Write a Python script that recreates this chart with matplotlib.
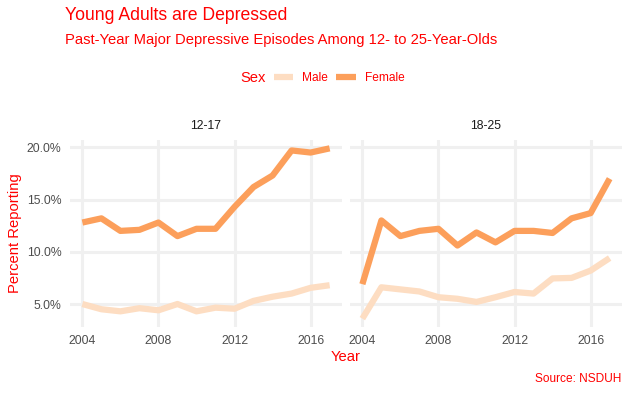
import numpy as np
import matplotlib.pyplot as plt
from matplotlib.lines import Line2D
from matplotlib.ticker import FuncFormatter

plt.rcParams['font.family'] = ['Liberation Sans', 'DejaVu Sans']

# Données (pourcentage)
annees = [2004, 2005, 2006, 2007, 2008, 2009, 2010, 2011, 2012, 2013, 2014, 2015, 2016, 2017]
groupes = ['12-17', '18-25']
homme_12_17 = [5.0, 4.5, 4.3, 4.6, 4.4, 5.0, 4.3, 4.65, 4.55, 5.3, 5.7, 6.0, 6.55, 6.8]
femme_12_17 = [12.8, 13.2, 12.0, 12.1, 12.8, 11.5, 12.2, 12.2, 14.3, 16.2, 17.3, 19.7, 19.5, 19.9]
homme_18_25 = [3.6, 6.6, 6.4, 6.2, 5.65, 5.5, 5.2, 5.65, 6.15, 6.0, 7.45, 7.5, 8.2, 9.4]
femme_18_25 = [6.9, 13.0, 11.5, 12.0, 12.2, 10.6, 11.85, 10.9, 12.0, 12.0, 11.8, 13.2, 13.7, 17.0]
series = {'12-17': (homme_12_17, femme_12_17), '18-25': (homme_18_25, femme_18_25)}
sexes = ['Male', 'Female']
couleurs = ['#FDDDC2', '#FC9F5B']

ROUGE = '#FF0000'
GRIS = '#4D4D4D'
W, H = 630, 395

fig = plt.figure(figsize=(6.3, 3.95), dpi=100)


def px(x0, x1, y0, y1):
    return [x0 / W, 1 - y1 / H, (x1 - x0) / W, (y1 - y0) / H]


panneaux = [px(70, 342, 140, 327), px(350, 622, 140, 327)]

for i, g in enumerate(groupes):
    ax = fig.add_axes(panneaux[i])
    for j, vals in enumerate(series[g]):
        ax.plot(annees, vals, color=couleurs[j], lw=4.5, solid_capstyle='butt', zorder=3)
    ax.set_xlim(2004 - 0.65, 2017 + 0.65)
    ax.set_ylim(2.8, 20.7)
    ax.set_xticks([2004, 2008, 2012, 2016])
    ax.set_yticks([5, 10, 15, 20])
    ax.yaxis.set_major_formatter(FuncFormatter(lambda v, p: f'{v:.1f}%'))
    ax.grid(True, color='#F0F0F0', lw=2.2)
    ax.set_axisbelow(True)
    for s in ax.spines.values():
        s.set_visible(False)
    ax.tick_params(length=0, labelsize=8.8, labelcolor=GRIS, pad=6)
    if i == 1:
        ax.tick_params(labelleft=False)
    ax.set_title(g, fontsize=8.8, color='#1A1A1A', pad=8)

fig.text(65 / W, 1 - 15 / H, 'Young Adults are Depressed', color=ROUGE, fontsize=12.7, va='center')
fig.text(65 / W, 1 - 40 / H, 'Past-Year Major Depressive Episodes Among 12- to 25-Year-Olds',
         color=ROUGE, fontsize=10.6, va='center')
fig.text(15 / W, 1 - 233 / H, 'Percent Reporting', color=ROUGE, fontsize=10.6,
         rotation=90, va='center', ha='center')
fig.text(346 / W, 1 - 357 / H, 'Year', color=ROUGE, fontsize=10.6, va='center', ha='center')
fig.text(621 / W, 1 - 379 / H, 'Source: NSDUH', color=ROUGE, fontsize=8.6, va='center', ha='right')

# légende
fig.text(240 / W, 1 - 78 / H, 'Sex', color=ROUGE, fontsize=10.6, va='center')
poignees = [Line2D([], [], color=c, lw=4.5, solid_capstyle='butt') for c in couleurs]
leg = fig.legend(poignees, sexes, loc='center left', bbox_to_anchor=(270 / W, 1 - 78 / H),
                 ncol=2, frameon=False, fontsize=8.6, handlelength=1.6, handletextpad=0.8,
                 columnspacing=0.7, borderaxespad=0, borderpad=0.3)
for t in leg.get_texts():
    t.set_color(ROUGE)

fig.savefig('out.png', dpi=100)
